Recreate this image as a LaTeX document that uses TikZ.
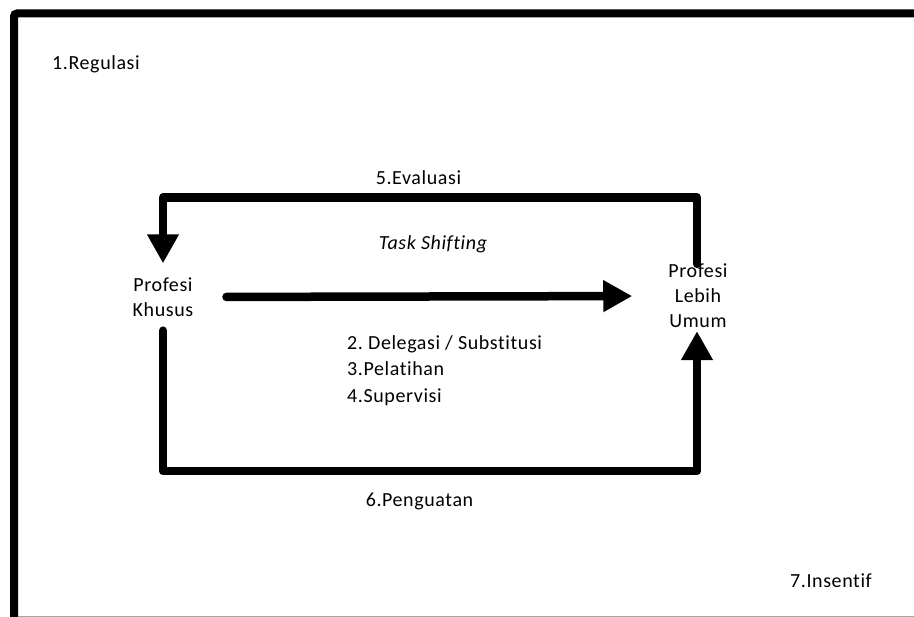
\documentclass[tikz,border=0pt]{standalone}
\usepackage{fontspec}
\setmainfont[Ligatures={NoCommon,NoRare,NoContextual}, LetterSpace=3]{Carlito}
\frenchspacing
\usetikzlibrary{arrows.meta}
\begin{document}
\begin{tikzpicture}[x=1pt,y=1pt,
  lbl/.style={inner sep=0pt, font=\fontsize{20}{25}\selectfont},
  prof/.style={lbl, align=center},
  conn/.style={line width=8.5pt, line cap=round, line join=round,
    -{Triangle[width=30pt,length=29pt]}}]
\useasboundingbox (0,0) rectangle (914,-617);
\fill[white] (0,0) rectangle (914,-617);
% outer frame, cut off at the right and bottom edges
\draw[line width=8pt, rounded corners=3pt] (14,-640) -- (14,-13.5) -- (940,-13.5);
\draw[gray!70, line width=1.2pt] (18,-616.2) -- (930,-616.2);

% labels
\node[lbl, anchor=base west] (reg) at (52,-70) {1.Regulasi};
\node[lbl, anchor=base west] (ins) at (790,-588) {7.Insentif};
\node[lbl, anchor=base] (eva) at (418.5,-185) {5.Evaluasi};
\node[lbl, anchor=base] (ts) at (433,-250) {\itshape Task Shifting};
\node[lbl, anchor=base] (pen) at (419.5,-507) {6.Penguatan};
\node[lbl, anchor=north west, align=left, font=\fontsize{20}{26.5}\selectfont] (steps) at (347,-335)
  {2. Delegasi / Substitusi\\3.Pelatihan\\4.Supervisi};

% the two professions
\node[prof] (pk) at (163,-297) {Profesi\\Khusus};
\node[prof] (plu) at (698,-296) {Profesi\\Lebih\\Umum};

% levels of the feedback loops
\coordinate (toplvl) at (0,-197.5);
\coordinate (lowlvl) at (0,-471);

% task shifting
\draw[conn, shorten <=33pt, shorten >=36pt] (pk.east) -- (plu.west);
% evaluation loop
\draw[conn, shorten >=14pt] ([xshift=-1pt]plu.north) -- ([xshift=-1pt]plu.north |- toplvl) -| (pk.north);
% strengthening loop
\draw[conn, shorten >=3pt] (pk.south) ++(0,-14) -- (pk.south |- lowlvl) -| ([xshift=-1pt]plu.south);
\end{tikzpicture}
\end{document}
